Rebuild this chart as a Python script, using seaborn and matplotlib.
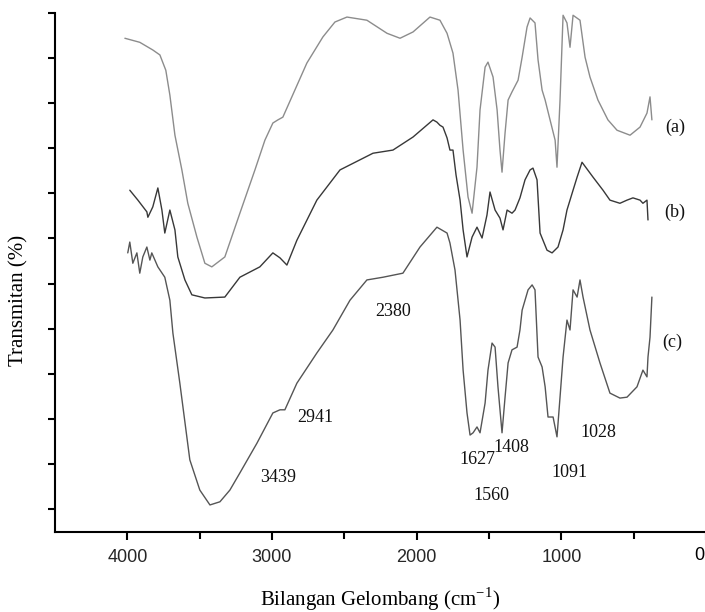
import numpy as np
import pandas as pd
import matplotlib
matplotlib.use("Agg")
import matplotlib.pyplot as plt
import seaborn as sns

# FTIR spectra: wavenumber (cm^-1) and transmittance (arbitrary %, offset)
wn_a = [4017, 3914, 3824, 3775, 3734, 3706, 3671, 3623, 3582, 3519, 3464, 3416,
        3326, 3222, 3118, 3049, 2994, 2959, 2925, 2842, 2759, 2648, 2565, 2482,
        2344, 2205, 2115, 2025, 1908, 1839, 1790, 1749, 1714, 1679, 1645, 1617,
        1583, 1562, 1527, 1507, 1472, 1444, 1424, 1410, 1389, 1368, 1341, 1299,
        1271, 1237, 1216, 1182, 1161, 1133, 1112, 1078, 1043, 1030, 1009, 988,
        961, 940, 919, 871, 836, 802, 747, 678, 615, 525, 456, 408, 387, 374]
t_a = [104.4, 103.5, 101.8, 100.7, 97.3, 91.8, 82.9, 75.2, 67.8, 60.3, 54.5, 53.7,
       55.9, 65.6, 75.2, 81.8, 85.6, 86.3, 86.9, 92.9, 98.9, 104.7, 108.0, 109.1,
       108.4, 105.5, 104.4, 105.8, 109.1, 108.4, 105.5, 101.1, 92.9, 79.6, 69.2, 65.6,
       75.8, 88.5, 98.0, 99.1, 95.8, 88.5, 79.6, 74.7, 83.4, 90.7, 92.5, 95.1,
       100.2, 106.9, 108.9, 107.8, 99.6, 92.9, 90.7, 86.3, 81.8, 75.8, 90.7, 109.5,
       107.8, 102.4, 109.5, 108.4, 100.2, 95.8, 90.7, 86.3, 84.0, 82.9, 84.7, 87.8, 91.4, 86.3]

wn_b = [3983, 3927, 3865, 3858, 3824, 3789, 3761, 3741, 3706, 3671, 3651, 3602,
        3554, 3464, 3326, 3222, 3084, 2994, 2945, 2897, 2828, 2690, 2530, 2302,
        2164, 2025, 1887, 1860, 1839, 1818, 1790, 1770, 1749, 1728, 1700, 1679,
        1652, 1617, 1583, 1548, 1514, 1493, 1458, 1424, 1403, 1375, 1341, 1320,
        1286, 1251, 1216, 1196, 1168, 1147, 1099, 1064, 1023, 988, 961, 919,
        891, 857, 781, 712, 664, 595, 546, 505, 456, 436, 408, 401]
t_b = [70.7, 68.5, 65.9, 64.7, 67.0, 71.2, 66.3, 61.2, 66.3, 61.9, 55.9, 50.8,
       47.5, 46.8, 47.0, 51.4, 53.7, 56.8, 55.7, 54.1, 59.6, 68.5, 75.2, 78.9,
       79.6, 82.5, 86.3, 85.8, 85.1, 84.7, 82.3, 79.6, 79.6, 74.1, 68.5, 61.9,
       55.9, 60.3, 62.5, 60.1, 65.2, 70.3, 66.3, 64.5, 61.9, 66.3, 65.6, 66.3,
       69.0, 73.0, 75.2, 75.6, 73.0, 61.2, 57.4, 56.8, 58.1, 61.9, 66.3, 70.7,
       73.6, 76.9, 73.6, 70.7, 68.5, 67.8, 68.5, 69.0, 68.5, 67.8, 68.5, 64.1]

wn_c = [3997, 3983, 3962, 3934, 3914, 3893, 3865, 3844, 3831, 3789, 3741, 3706,
        3685, 3637, 3568, 3499, 3429, 3360, 3291, 3222, 3104, 2994, 2945, 2911,
        2828, 2690, 2579, 2461, 2344, 2233, 2095, 1977, 1860, 1790, 1770, 1735,
        1700, 1679, 1652, 1631, 1610, 1583, 1562, 1527, 1507, 1479, 1458, 1438,
        1410, 1389, 1368, 1341, 1306, 1286, 1271, 1230, 1202, 1182, 1161, 1133,
        1112, 1092, 1057, 1030, 1009, 988, 961, 940, 919, 891, 871, 850,
        802, 733, 664, 595, 546, 477, 436, 408, 401, 387, 374]
t_c = [56.8, 59.2, 54.5, 56.8, 52.3, 55.9, 58.1, 55.2, 56.8, 53.7, 51.4, 46.3,
       39.0, 27.9, 10.9, 4.2, 0.9, 1.6, 4.2, 8.0, 14.6, 21.3, 22.0, 22.0,
       27.9, 34.6, 39.7, 46.3, 50.8, 51.4, 52.3, 58.1, 62.5, 61.2, 59.0, 53.0,
       41.9, 30.8, 21.3, 16.4, 16.9, 18.2, 16.9, 23.5, 30.8, 36.8, 35.9, 27.1,
       16.9, 24.8, 32.4, 35.3, 35.9, 39.7, 44.1, 48.6, 49.7, 48.6, 33.7, 31.5,
       27.1, 20.4, 20.4, 16.0, 24.8, 33.7, 41.9, 39.7, 48.6, 47.0, 50.8, 47.0,
       39.7, 32.4, 25.7, 24.6, 24.8, 27.1, 30.8, 29.3, 33.7, 38.1, 47.0]

series_labels = ["(a)", "(b)", "(c)"]
series_label_pos = [(214, 84.7), (214, 65.9), (235, 37.0)]

peak_labels = ["3439", "2941", "2380", "1627", "1560", "1408", "1091", "1028"]
peak_label_pos = [(2959, 6.9), (2703, 20.2), (2164, 43.7), (1583, 10.9),
                  (1486, 3.1), (1348, 13.7), (947, 8.0), (746, 16.9)]

x_major = [4000, 3000, 2000, 1000, 0]
x_minor = [3500, 2500, 1500, 500]
y_ticks = list(range(0, 111, 10))

df = pd.concat([
    pd.DataFrame({"wn": wn_a, "T": t_a, "s": "a"}),
    pd.DataFrame({"wn": wn_b, "T": t_b, "s": "b"}),
    pd.DataFrame({"wn": wn_c, "T": t_c, "s": "c"}),
])

sns.set_theme(style="white")
plt.rcParams["font.family"] = ["Liberation Serif", "DejaVu Serif"]
plt.rcParams["mathtext.fontset"] = "custom"
plt.rcParams["mathtext.rm"] = "Liberation Serif"

fig = plt.figure(figsize=(7.05, 6.12), dpi=100)
ax = fig.add_axes([55 / 705, 80 / 612, 651 / 705, 519 / 612])

palette = {"a": "#8c8c8c", "b": "#383838", "c": "#555555"}
sns.lineplot(data=df, x="wn", y="T", hue="s", palette=palette, estimator=None,
             linewidth=1.0, legend=False, ax=ax, sort=False)

ax.set_xlim(4500, 0)
ax.set_ylim(-5.1, 110)
ax.set_xticks(x_major)
ax.set_xticks(x_minor, minor=True)
ax.set_yticks(y_ticks)
ax.set_yticklabels([])
# the tick at 0 lies on the figure edge, so its label is placed by hand just inside
ax.set_xticklabels([str(v) if v != 0 else "" for v in x_major],
                   family="Liberation Sans", fontsize=13)
ax.annotate(str(x_major[-1]), xy=(x_major[-1], 0), xycoords=("data", "axes fraction"),
            xytext=(-5, -10.5), textcoords="offset points", ha="center", va="top",
            family="Liberation Sans", fontsize=13, color="black")

for side in ["top", "right"]:
    ax.spines[side].set_visible(False)
for side in ["left", "bottom"]:
    ax.spines[side].set_linewidth(1.5)
    ax.spines[side].set_color("black")

ax.tick_params(axis="x", which="major", direction="out", length=6, width=1.5,
               color="black", pad=6, bottom=True)
ax.tick_params(axis="x", which="minor", direction="out", length=5, width=1.5,
               color="black", bottom=True)
ax.tick_params(axis="y", which="major", direction="out", length=5, width=1.5,
               color="black", left=True)

ax.set_xlabel("Bilangan Gelombang (cm$^{\\mathregular{-1}}$)", fontsize=15,
              color="black", labelpad=14)
ax.set_ylabel("Transmitan (%)", fontsize=15, color="black", va="center")
ax.yaxis.set_label_coords(-0.056, 0.447)

for lab, (x, y) in zip(series_labels, series_label_pos):
    ax.text(x, y, lab, fontsize=13, ha="center", va="center", color="#111111")
for lab, (x, y) in zip(peak_labels, peak_label_pos):
    ax.text(x, y, lab, fontsize=13, ha="center", va="center", color="#111111")

fig.savefig("out.png", dpi=100)
